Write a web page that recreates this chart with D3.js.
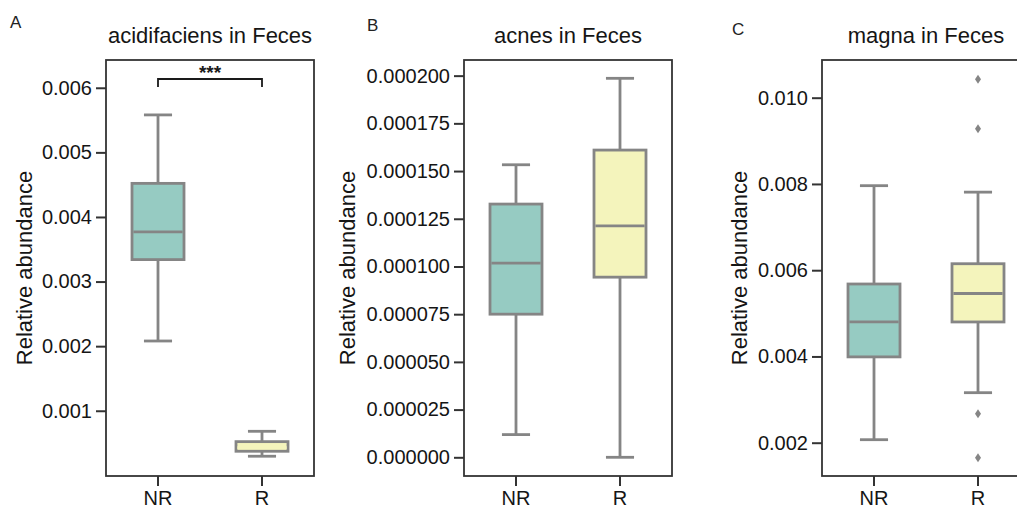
<!DOCTYPE html>
<html>
<head>
<meta charset="utf-8">
<script src="https://cdn.jsdelivr.net/npm/d3@7"></script>
<style>
  html, body { margin: 0; padding: 0; background: #fff; }
  svg { display: block; font-family: "Liberation Sans", Arial, Helvetica, sans-serif; }
</style>
</head>
<body>
<svg id="chart" width="1017" height="506"></svg>
<script>
// Groups shown on every x axis
const groups = ["NR", "R"];

// Box statistics per group: [lower whisker, Q1, median, Q3, upper whisker]
const acidifaciensNR = [0.00208, 0.00334, 0.00377, 0.00452, 0.00558];
const acidifaciensR  = [0.000296, 0.000373, 0.000429, 0.000522, 0.000682];
const acnesNR = [0.0000119, 0.0000750, 0.0001018, 0.0001327, 0.0001533];
const acnesR  = [0.0000000, 0.0000944, 0.0001213, 0.0001610, 0.0001986];
const magnaNR = [0.00207, 0.00399, 0.00480, 0.00568, 0.00796];
const magnaR  = [0.00316, 0.00480, 0.00546, 0.00615, 0.00781];

// Points beyond the whiskers
const acidifaciensOutliersR = [];
const acnesOutliersR = [];
const magnaOutliersR = [0.01043, 0.00928, 0.00267, 0.00165];

// Tick values for each y axis
const acidifaciensTicks = [0.001, 0.002, 0.003, 0.004, 0.005, 0.006];
const acnesTicks = [0, 0.000025, 0.00005, 0.000075, 0.0001, 0.000125, 0.00015, 0.000175, 0.0002];
const magnaTicks = [0.002, 0.004, 0.006, 0.008, 0.010];

const fills = { NR: "#96cbc2", R: "#f4f4bc" };
const boxStroke = "#858585";
const frameStroke = "#333333";
const textColor = "#151515";

const svg = d3.select("#chart");

function drawPanel(opt) {
  const top = 60, bottom = 476;
  const g = svg.append("g");

  const x = d3.scaleBand().domain(groups).range([opt.left, opt.left + 208]);
  const y = d3.scaleLinear().domain(opt.domain).range([bottom, top]);

  // panel letter and title
  g.append("text").attr("x", opt.letterX).attr("y", opt.letterY)
    .attr("font-size", 17).attr("fill", "#222").text(opt.letter);
  g.append("text").attr("x", opt.left + 104).attr("y", 43)
    .attr("text-anchor", "middle").attr("font-size", 22).attr("fill", textColor)
    .text(opt.title);

  // y axis label
  g.append("text")
    .attr("transform", `translate(${opt.labelX},${(top + bottom) / 2}) rotate(-90)`)
    .attr("text-anchor", "middle").attr("font-size", 22).attr("fill", textColor)
    .text("Relative abundance");

  // boxes
  const data = groups.map((k, i) => ({ key: k, s: opt.stats[i], out: opt.outliers[i] }));
  const bw = x.bandwidth() * 0.5;
  const cw = x.bandwidth() * 0.27;
  data.forEach(d => {
    const cx = x(d.key) + x.bandwidth() / 2;
    const [lo, q1, med, q3, hi] = d.s;
    const bg = g.append("g").attr("stroke", boxStroke).attr("stroke-width", 2.8);
    bg.append("line").attr("x1", cx).attr("x2", cx).attr("y1", y(hi)).attr("y2", y(q3));
    bg.append("line").attr("x1", cx).attr("x2", cx).attr("y1", y(q1)).attr("y2", y(lo));
    bg.append("line").attr("x1", cx - cw / 2).attr("x2", cx + cw / 2).attr("y1", y(hi)).attr("y2", y(hi));
    bg.append("line").attr("x1", cx - cw / 2).attr("x2", cx + cw / 2).attr("y1", y(lo)).attr("y2", y(lo));
    bg.append("rect").attr("x", cx - bw / 2).attr("width", bw)
      .attr("y", y(q3)).attr("height", y(q1) - y(q3)).attr("fill", fills[d.key]);
    bg.append("line").attr("x1", cx - bw / 2 + 1.4).attr("x2", cx + bw / 2 - 1.4).attr("y1", y(med)).attr("y2", y(med))
      .attr("stroke", opt.medianColor ? opt.medianColor[d.key] : boxStroke);
    d.out.forEach(v => {
      const py = y(v);
      g.append("path")
        .attr("d", `M${cx},${py - 4.5}L${cx + 3},${py}L${cx},${py + 4.5}L${cx - 3},${py}Z`)
        .attr("fill", boxStroke);
    });
  });

  // axes
  const yAxis = d3.axisLeft(y).tickValues(opt.ticks).tickFormat(d3.format(opt.fmt))
    .tickSize(10).tickPadding(4);
  const ya = g.append("g").attr("transform", `translate(${opt.left},0)`).call(yAxis);
  const xAxis = d3.axisBottom(x).tickSize(10).tickPadding(5);
  const xa = g.append("g").attr("transform", `translate(0,${bottom})`).call(xAxis);
  [ya, xa].forEach(a => {
    a.select(".domain").remove();
    a.selectAll(".tick line").attr("stroke", frameStroke).attr("stroke-width", 2);
    a.selectAll(".tick text").attr("font-size", 20).attr("fill", textColor)
      .attr("font-family", "Liberation Sans, Arial, sans-serif");
  });

  // frame
  g.append("rect").attr("x", opt.left).attr("y", top).attr("width", 208).attr("height", bottom - top)
    .attr("fill", "none").attr("stroke", frameStroke).attr("stroke-width", 1.8);

  if (opt.sig) {
    const x1 = x("NR") + x.bandwidth() / 2, x2 = x("R") + x.bandwidth() / 2;
    const by = 79, tip = 87;
    g.append("path").attr("d", `M${x1},${tip}V${by}H${x2}V${tip}`)
      .attr("fill", "none").attr("stroke", "#1a1a1a").attr("stroke-width", 1.8);
    g.append("text").attr("x", (x1 + x2) / 2).attr("y", 79).attr("text-anchor", "middle")
      .attr("font-size", 19).attr("font-weight", "bold").attr("fill", "#1a1a1a").text(opt.sig);
  }
}

drawPanel({
  letter: "A", letterX: 10, letterY: 28, title: "acidifaciens in Feces",
  left: 106, labelX: 32, domain: [-0.00001, 0.00643],
  stats: [acidifaciensNR, acidifaciensR], outliers: [[], acidifaciensOutliersR],
  ticks: acidifaciensTicks, fmt: ".3f", sig: "***",
  medianColor: { NR: boxStroke, R: "#f4f4bc" }
});
drawPanel({
  letter: "B", letterX: 367, letterY: 31, title: "acnes in Feces",
  left: 464, labelX: 355, domain: [-0.0000098, 0.0002082],
  stats: [acnesNR, acnesR], outliers: [[], acnesOutliersR],
  ticks: acnesTicks, fmt: ".6f"
});
drawPanel({
  letter: "C", letterX: 732, letterY: 35, title: "magna in Feces",
  left: 822, labelX: 747, domain: [0.001228, 0.010874],
  stats: [magnaNR, magnaR], outliers: [[], magnaOutliersR],
  ticks: magnaTicks, fmt: ".3f"
});
</script>
</body>
</html>
